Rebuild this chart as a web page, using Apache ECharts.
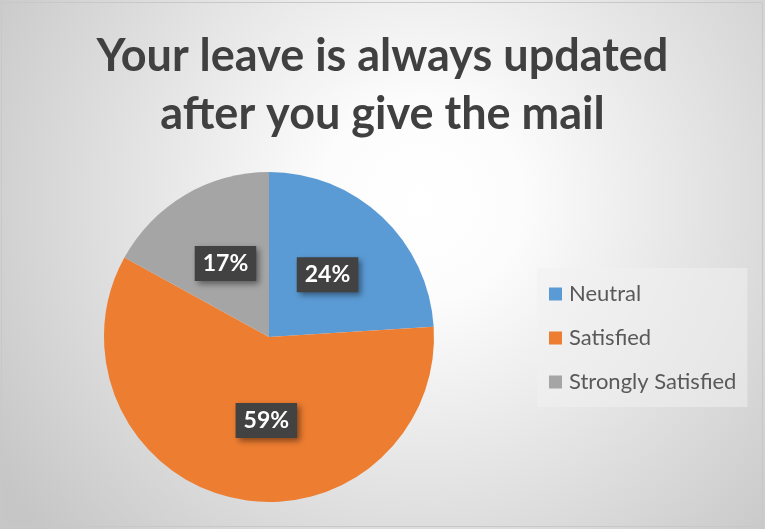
<!DOCTYPE html>
<html>
<head>
<meta charset="utf-8">
<script src="https://cdn.jsdelivr.net/npm/echarts@6/dist/echarts.min.js"></script>
<style>
html,body{margin:0;padding:0;background:#fff;}
#chart{width:765px;height:529px;}
</style>
</head>
<body>
<div id="chart"></div>
<script>
const titleText = 'Your leave is always updated\nafter you give the mail';
const categories = ['Neutral', 'Satisfied', 'Strongly Satisfied'];
const values = [24, 59, 17];
const colors = ['#5B9BD5', '#ED7D31', '#A5A5A5'];

const chart = echarts.init(document.getElementById('chart'), null, {renderer: 'canvas'});
const data = categories.map((c, i) => ({
  name: c,
  value: values[i],
  itemStyle: {color: colors[i]},
  label: i === 1 ? {offset: [16, 0]} : {}
}));

chart.setOption({
  animation: false,
  backgroundColor: {
    type: 'radial', x: 0.55, y: 0.38, r: 0.95,
    colorStops: [
      {offset: 0, color: '#ffffff'},
      {offset: 0.2, color: '#fcfcfc'},
      {offset: 1, color: '#c6c6c6'}
    ]
  },
  graphic: [{
    type: 'rect',
    shape: {x: 1.5, y: 2.5, width: 761, height: 524},
    style: {fill: 'none', stroke: '#c8c8c8', lineWidth: 1},
    silent: true
  }],
  title: {
    text: titleText,
    left: 'center',
    top: 22,
    textStyle: {
      fontFamily: 'Lato',
      fontWeight: 'bold',
      fontSize: 45,
      lineHeight: 58,
      color: '#404040'
    }
  },
  legend: {
    orient: 'vertical',
    left: 537,
    top: 268,
    padding: [15, 11, 14, 12],
    itemGap: 22,
    itemWidth: 13,
    itemHeight: 13,
    icon: 'rect',
    backgroundColor: 'rgba(240,240,240,0.55)',
    textStyle: {fontFamily: 'Lato', fontSize: 22, color: '#595959', padding: [0, 0, 0, 2]},
    data: categories
  },
  series: [{
    type: 'pie',
    center: [269, 337],
    radius: 165,
    startAngle: 90,
    clockwise: true,
    avoidLabelOverlap: false,
    labelLine: {show: false},
    label: {
      show: true,
      position: 'inside',
      formatter: p => p.value + '%',
      fontFamily: 'Lato',
      fontWeight: 'bold',
      fontSize: 23,
      color: '#ffffff',
      backgroundColor: '#424242',
      padding: [7, 8, 5, 8],
      shadowColor: 'rgba(0,0,0,0.45)',
      shadowBlur: 6,
      shadowOffsetX: 3,
      shadowOffsetY: 3
    },
    emphasis: {disabled: true},
    data: data
  }]
});
</script>
</body>
</html>
